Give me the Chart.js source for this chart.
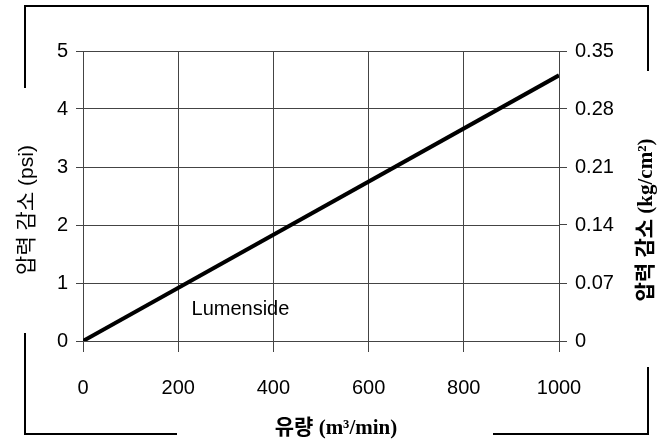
<!DOCTYPE html>
<html>
<head>
<meta charset="utf-8">
<script src="https://cdn.jsdelivr.net/npm/chart.js@4"></script>
<style>
  body { margin: 0; background: #fff; }
  canvas { display: block; }
</style>
</head>
<body>
<canvas id="chart" width="663" height="444"></canvas>
<script>
// flow (m3/min) vs pressure drop (psi)
const flow = [0, 1000];
const pressurePsi = [0, 4.58];
const xTicks = [0, 200, 400, 600, 800, 1000];
const yLeftTicks = [0, 1, 2, 3, 4, 5];
const yRightTicks = [0, 0.07, 0.14, 0.21, 0.28, 0.35];
const seriesLabel = "Lumenside";
const labelPos = [228, 0.54];
const xTitle = "유량 (m³/min)";
const yLeftTitle = "압력 감소 (psi)";
const yRightTitle = "압력 감소 (kg/cm²)";

const tickFont = { family: "'Liberation Sans', Arial, sans-serif", size: 20 };
const gridColor = "#444";

// frame around the chart with gaps for the axis titles, plus titles and series label
const framePlugin = {
  id: "frame",
  afterDraw(chart) {
    const ctx = chart.ctx;
    ctx.save();
    ctx.strokeStyle = "#000";
    ctx.lineWidth = 2;
    ctx.beginPath();
    ctx.moveTo(25, 88); ctx.lineTo(25, 6); ctx.lineTo(648, 6); ctx.lineTo(648, 71);
    ctx.moveTo(25, 333); ctx.lineTo(25, 434); ctx.lineTo(177, 434);
    ctx.moveTo(493, 434); ctx.lineTo(648, 434); ctx.lineTo(648, 367);
    ctx.stroke();

    ctx.fillStyle = "#000";
    ctx.textAlign = "center";
    ctx.textBaseline = "middle";
    ctx.font = "600 21px 'Liberation Serif', 'Noto Sans CJK KR', serif";
    ctx.fillText(xTitle, 336, 429);

    ctx.save();
    ctx.translate(27, 210);
    ctx.rotate(-Math.PI / 2);
    ctx.font = "21px 'Liberation Sans', 'Noto Sans CJK KR', sans-serif";
    ctx.fillText(yLeftTitle, 0, 0);
    ctx.restore();

    ctx.save();
    ctx.translate(647, 220);
    ctx.rotate(-Math.PI / 2);
    ctx.font = "600 21px 'Liberation Serif', 'Noto Sans CJK KR', serif";
    ctx.fillText(yRightTitle, 0, 0);
    ctx.restore();

    const x = chart.scales.x.getPixelForValue(labelPos[0]);
    const y = chart.scales.y.getPixelForValue(labelPos[1]);
    ctx.textAlign = "left";
    ctx.font = "20px 'Liberation Sans', Arial, sans-serif";
    ctx.fillText(seriesLabel, x, y);
    ctx.restore();
  },
};

new Chart(document.getElementById("chart"), {
  type: "scatter",
  data: {
    datasets: [
      {
        label: seriesLabel,
        data: flow.map((f, i) => ({ x: f, y: pressurePsi[i] })),
        showLine: true,
        borderColor: "#000",
        borderWidth: 4,
        pointRadius: 0,
      },
    ],
  },
  options: {
    responsive: false,
    animation: false,
    layout: { padding: { top: 51, left: 0, right: 0, bottom: 0 } },
    plugins: { legend: { display: false }, tooltip: { enabled: false } },
    scales: {
      x: {
        type: "linear",
        min: 0,
        max: 1000,
        afterBuildTicks: (s) => { s.ticks = xTicks.map((v) => ({ value: v })); },
        afterFit: (s) => { s.height = 103; },
        grid: { color: gridColor, tickLength: 11 },
        border: { color: gridColor },
        ticks: {
          font: tickFont,
          color: "#000",
          padding: 24,
          maxRotation: 0,
          callback: (v) => String(v),
        },
      },
      y: {
        position: "left",
        min: 0,
        max: 5,
        afterBuildTicks: (s) => { s.ticks = yLeftTicks.map((v) => ({ value: v })); },
        afterFit: (s) => { s.width = 83; },
        grid: { color: gridColor, tickLength: 7 },
        border: { color: gridColor },
        ticks: { font: tickFont, color: "#000", padding: 8 },
      },
      y2: {
        position: "right",
        min: 0,
        max: 0.35,
        afterBuildTicks: (s) => { s.ticks = yRightTicks.map((v) => ({ value: v })); },
        afterFit: (s) => { s.width = 104; },
        grid: { drawOnChartArea: false, color: gridColor, tickLength: 8 },
        border: { color: gridColor },
        ticks: {
          font: tickFont,
          color: "#000",
          padding: 8,
          callback: (v) => String(+v.toFixed(2)),
        },
      },
    },
  },
  plugins: [framePlugin],
});
</script>
</body>
</html>
